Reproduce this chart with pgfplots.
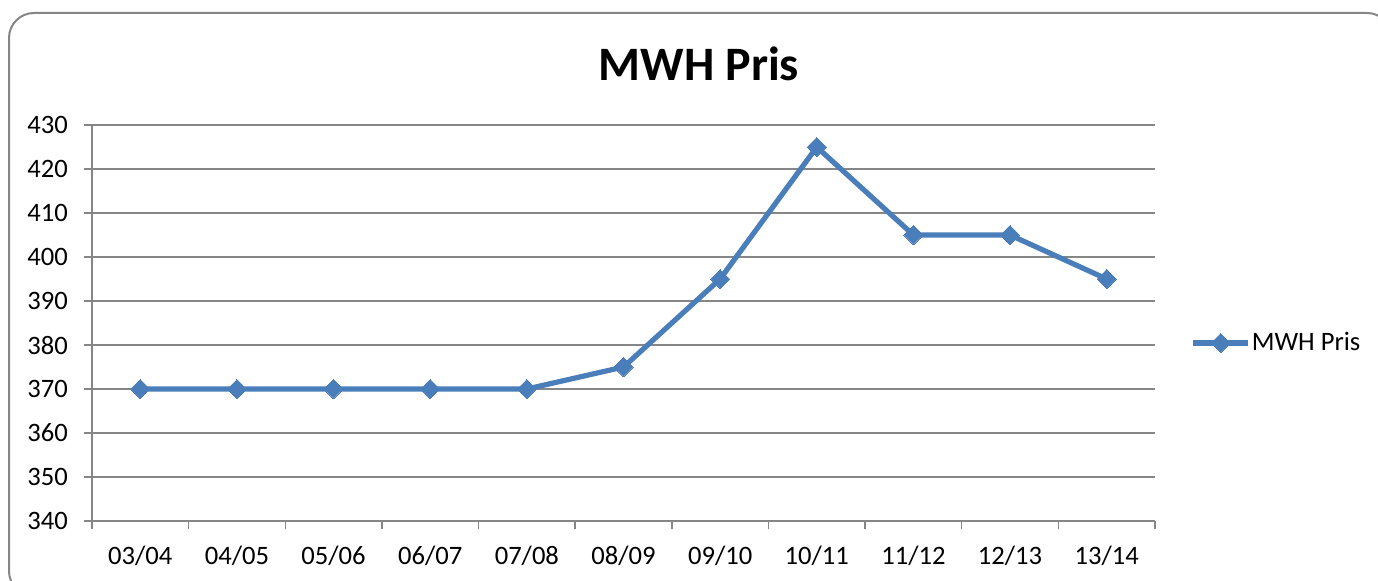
\documentclass[border=0pt]{standalone}
\usepackage{fontspec}
\setmainfont{Carlito}
\usepackage{pgfplots}
\pgfplotsset{compat=1.18}
\definecolor{lineblue}{HTML}{4A7EBB}
\definecolor{axgray}{HTML}{868686}
\begin{document}
\begin{tikzpicture}
\path[use as bounding box] (0,0) rectangle (689pt,290pt);
\clip (0,0) rectangle (689pt,290pt);
\draw[axgray, line width=1pt, rounded corners=12.5pt] (4.5pt,283.5pt) rectangle (696pt,-8pt);
\node[anchor=base, font=\bfseries\fontsize{24}{28}\selectfont] at (349.5pt,250pt) {MWH Pris};
\begin{axis}[
  at={(46pt,29.5pt)}, anchor=south west,
  scale only axis, width=531.5pt, height=198pt,
  xmin=-0.5, xmax=10.5, ymin=340, ymax=430,
  ytick={340,350,...,430},
  xtick={0,...,10},
  xticklabels={03/04,04/05,05/06,06/07,07/08,08/09,09/10,10/11,11/12,12/13,13/14},
  minor xtick={-0.5,0.5,...,10.5},
  axis x line*=bottom, axis y line*=left,
  axis line style={axgray, line width=0.75pt, -},
  ymajorgrids, grid style={axgray, line width=0.75pt},
  tick align=outside,
  major tick length=4pt, minor tick length=4pt,
  xtick style={draw=none},
  minor x tick style={axgray, line width=0.75pt, draw=axgray},
  ytick style={axgray, line width=0.75pt},
  /pgf/number format/assume math mode=true,
  tick label style={font=\fontsize{13.3}{15}\selectfont},
  yticklabel style={xshift=-4.5pt},
  xticklabel style={yshift=-5pt},
  legend style={draw=none, fill=none, at={(axis description cs:1.0335,0.4495)}, anchor=west,
    inner sep=0pt, outer sep=0pt, font=\fontsize{13.3}{15}\selectfont,
    nodes={inner sep=0.5pt}},
  legend image code/.code={\draw[#1, mark repeat=2, mark phase=2] plot coordinates {(0pt,0pt) (13.75pt,0pt) (27.5pt,0pt)};},
]
\addplot[lineblue, line width=2.6pt, mark=square*, mark size=3.4pt, mark options={rotate=45, fill=lineblue, line width=0pt}]
  coordinates {(0,370) (1,370) (2,370) (3,370) (4,370) (5,375) (6,395) (7,425) (8,405) (9,405) (10,395)};
\addlegendentry{MWH Pris}
\end{axis}
\end{tikzpicture}
\end{document}
